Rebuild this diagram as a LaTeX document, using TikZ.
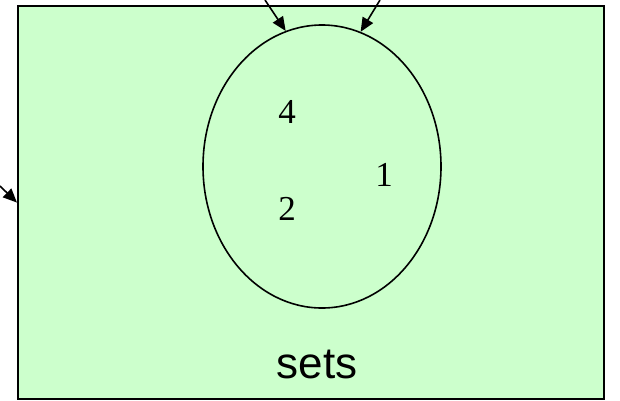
\documentclass[tikz,border=0pt]{standalone}
\usepackage{fontspec}
\setmainfont{Liberation Serif}
\setsansfont{Liberation Sans}
\usetikzlibrary{arrows.meta,shapes.geometric}
\definecolor{setgreen}{HTML}{CCFFCC}
\tikzset{
  boxline/.style={line width=2.2pt, black},
  setline/.style={line width=1.6pt, black},
  pointer/.style={line width=1.6pt, black, -{Triangle[length=14pt,width=12pt]}},
  member/.style={font=\fontsize{35}{35}\selectfont, inner sep=0pt},
}

\begin{document}
\begin{tikzpicture}[x=1pt,y=1pt]
\useasboundingbox (0,0) rectangle (620,-400);
\node[draw, boxline, fill=setgreen, minimum width=586pt, minimum height=393pt, inner sep=0pt, anchor=north west] (box) at (17,-5) {};
\node[draw, setline, ellipse, minimum width=238pt, minimum height=283pt, inner sep=0pt] (ell) at (322,-166.5) {};
\node[member] (four) at (287,-112) {4};
\node[member] (one) at (384,-175) {1};
\node[member] (two) at (287,-209) {2};
\node[font=\sffamily\fontsize{44}{44}\selectfont, inner sep=0pt, anchor=base] (name) at (317,-378) {sets};
\coordinate (inA) at (265,0);
\coordinate (inB) at (380,0);
\coordinate (inC) at (0,-186);
\draw[pointer] (inA) -- (ell.105);
\draw[pointer] (inB) -- (ell.74);
\draw[pointer] (inC) -- (box.west);
\end{tikzpicture}
\end{document}
